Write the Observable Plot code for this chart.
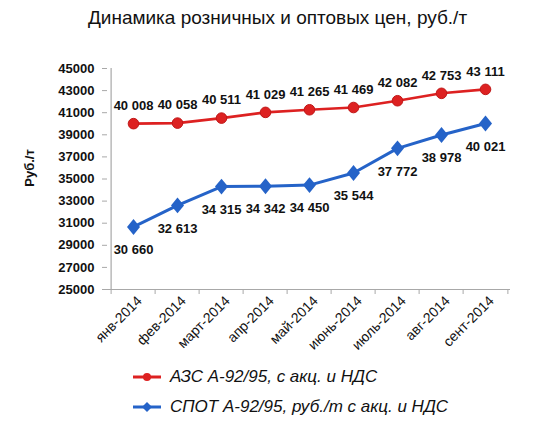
<!DOCTYPE html>
<html><head><meta charset="utf-8">
<script src="https://cdn.jsdelivr.net/npm/d3@7"></script>
<script src="https://cdn.jsdelivr.net/npm/@observablehq/plot@0.6"></script>
<style>
body{margin:0;background:#fff;font-family:"Liberation Sans",Arial,sans-serif;}
#wrap{position:relative;width:550px;height:430px;overflow:hidden;}
#title{position:absolute;left:0;width:555px;top:7px;text-align:center;font-size:19px;color:#111;}
#chart{position:absolute;left:0;top:0;}
.leg{position:absolute;left:133px;font-style:italic;font-size:17px;color:#111;display:flex;align-items:center;}
.leg svg{margin-right:9px;}
</style></head>
<body>
<div id="wrap">
<div id="chart"></div>
<div id="title">Динамика розничных и оптовых цен, руб./т</div>
<div class="leg" style="top:367px"><svg width="28" height="12"><line x1="0" y1="6" x2="28" y2="6" stroke="#dd2121" stroke-width="3"/><circle cx="14" cy="6" r="4" fill="#dd2121"/></svg>АЗС А-92/95, с акц. и НДС</div>
<div class="leg" style="top:397px"><svg width="28" height="12"><line x1="0" y1="6" x2="28" y2="6" stroke="#2563c8" stroke-width="3"/><path d="M14 1 L19 6 L14 11 L9 6Z" fill="#2563c8"/></svg>СПОТ А-92/95, руб./т с акц. и НДС</div>
</div>
<script>
const months = ["янв-2014","фев-2014","март-2014","апр-2014","май-2014","июнь-2014","июль-2014","авг-2014","сент-2014"];
const azs = [40008,40058,40511,41029,41265,41469,42082,42753,43111];
const spot = [30660,32613,34315,34342,34450,35544,37772,38978,40021];
const yTicks = [25000,27000,29000,31000,33000,35000,37000,39000,41000,43000,45000];

const redC = "#dd2121", blueC = "#2563c8";
const W = 550, H = 430, mL = 107, mR = 40, mT = 68, mB = 141;
const bw = (W - mL - mR) / months.length;
const fmt = v => d3.format(",")(v).replace(/,/g, " ");
const azsData = months.map((m,i)=>({m, v: azs[i]}));
const spotData = months.map((m,i)=>({m, v: spot[i]}));

// diamond slightly taller than wide
const diamond = {
  draw(ctx, size) {
    const h = Math.sqrt(size) * 0.64, w = h * 0.82;
    ctx.moveTo(0, -h); ctx.lineTo(w, 0); ctx.lineTo(0, h); ctx.lineTo(-w, 0); ctx.closePath();
  }
};

const chart = Plot.plot({
  width: W, height: H,
  marginLeft: mL, marginRight: mR, marginTop: mT, marginBottom: mB,
  style: {fontFamily: "'Liberation Sans', Arial, sans-serif", color: "#111", background: "transparent"},
  x: {type: "band", domain: months, padding: 0},
  y: {domain: [25000, 45000]},
  marks: [
    Plot.ruleX([months[0]], {dx: -bw/2, stroke: "#a8a8a8", strokeWidth: 1.2}),
    Plot.ruleY([25000], {stroke: "#a8a8a8", strokeWidth: 1.2}),
    Plot.axisY({ticks: yTicks, tickFormat: d => String(d), tickSize: 5, tickPadding: 8, stroke: "#a8a8a8", fontSize: 13, fontWeight: "bold", label: null}),
    Plot.axisX({tickSize: 5, text: null, dx: -bw/2, stroke: "#a8a8a8", label: null}),
    Plot.axisX({ticks: [months[months.length-1]], tickSize: 5, text: null, dx: bw/2, stroke: "#a8a8a8", label: null}),
    Plot.axisX({tickSize: 0, tickPadding: 9, tickRotate: -45, fontSize: 14, label: null, dx: 6}),
    Plot.text(["Руб./т"], {frameAnchor: "left", textAnchor: "middle", rotate: -90, dx: -78, dy: -11, fontWeight: "bold", fontSize: 13}),
    Plot.line(azsData, {x: "m", y: "v", stroke: redC, strokeWidth: 2.6}),
    Plot.dot(azsData, {x: "m", y: "v", fill: redC, stroke: "#c01818", strokeWidth: 1, r: 5.3}),
    Plot.line(spotData, {x: "m", y: "v", stroke: blueC, strokeWidth: 3}),
    Plot.dot(spotData, {x: "m", y: "v", fill: blueC, symbol: diamond, r: 7}),
    Plot.text(azsData, {x: "m", y: "v", text: d => fmt(d.v), dy: -18, fontSize: 13, fontWeight: "bold"}),
    Plot.text(spotData, {x: "m", y: "v", text: d => fmt(d.v), dy: 23, fontSize: 13, fontWeight: "bold"})
  ]
});
document.getElementById("chart").appendChild(chart);
</script>
</body></html>
